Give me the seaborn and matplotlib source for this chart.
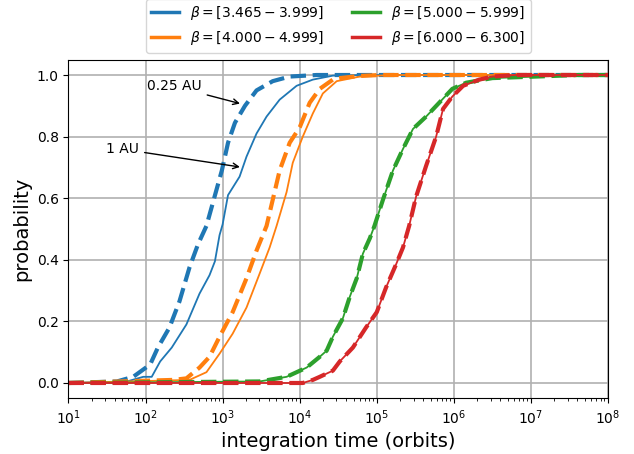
import numpy as np
import pandas as pd
import seaborn as sns
import matplotlib
matplotlib.use('Agg')
import matplotlib.pyplot as plt
from matplotlib.lines import Line2D

# log10(integration time) and cumulative probability
blue_025_logt = [1.0, 1.63, 1.84, 2.06, 2.16, 2.31, 2.44, 2.57, 2.68, 2.79, 2.99, 3.07, 3.16, 3.29, 3.44, 3.65, 3.87, 4.22, 8.0]
blue_025_p = [0, 0.005, 0.02, 0.06, 0.115, 0.18, 0.265, 0.375, 0.45, 0.51, 0.69, 0.78, 0.845, 0.90, 0.95, 0.98, 0.995, 1.0, 1.0]

blue_1_logt = [1.0, 1.76, 1.97, 2.08, 2.19, 2.34, 2.53, 2.70, 2.83, 2.90, 2.96, 3.0, 3.07, 3.22, 3.31, 3.44, 3.57, 3.74, 3.96, 4.17, 4.43, 4.8, 8.0]
blue_1_p = [0, 0.005, 0.02, 0.02, 0.07, 0.115, 0.19, 0.29, 0.35, 0.395, 0.48, 0.515, 0.61, 0.67, 0.735, 0.81, 0.865, 0.92, 0.965, 0.985, 0.998, 1.0, 1.0]

orange_025_logt = [1.0, 2.36, 2.53, 2.70, 2.83, 2.96, 3.13, 3.31, 3.44, 3.57, 3.74, 3.87, 4.0, 4.13, 4.26, 4.43, 4.52, 4.78, 5.04, 8.0]
orange_025_p = [0, 0.01, 0.015, 0.05, 0.085, 0.15, 0.23, 0.34, 0.43, 0.51, 0.69, 0.78, 0.83, 0.91, 0.955, 0.985, 0.99, 0.997, 1.0, 1.0]

orange_1_logt = [1.0, 2.57, 2.79, 2.96, 3.13, 3.31, 3.48, 3.61, 3.70, 3.83, 3.91, 4.04, 4.17, 4.30, 4.48, 4.78, 5.2, 8.0]
orange_1_p = [0, 0.01, 0.035, 0.095, 0.16, 0.245, 0.355, 0.44, 0.51, 0.62, 0.715, 0.80, 0.875, 0.94, 0.98, 0.995, 1.0, 1.0]

green_logt = [1.0, 3.48, 3.83, 4.09, 4.26, 4.35, 4.43, 4.56, 4.65, 4.74, 4.82, 4.91, 4.97, 5.08, 5.21, 5.34, 5.47, 5.64, 5.81, 5.98, 6.16, 6.50, 7.07, 7.6, 8.0]
green_p = [0, 0.005, 0.02, 0.05, 0.085, 0.105, 0.15, 0.21, 0.28, 0.34, 0.42, 0.47, 0.51, 0.595, 0.69, 0.76, 0.825, 0.865, 0.91, 0.955, 0.975, 0.99, 0.995, 1.0, 1.0]

red_logt = [1.0, 4.04, 4.17, 4.26, 4.43, 4.52, 4.69, 4.86, 5.0, 5.12, 5.25, 5.34, 5.42, 5.51, 5.64, 5.77, 5.86, 5.98, 6.12, 6.33, 6.5, 6.8, 8.0]
red_p = [0, 0.0, 0.01, 0.02, 0.04, 0.07, 0.115, 0.18, 0.23, 0.31, 0.385, 0.44, 0.51, 0.605, 0.705, 0.80, 0.89, 0.93, 0.965, 0.985, 0.995, 1.0, 1.0]

labels = [r'$\beta = [3.465 - 3.999]$', r'$\beta = [4.000 - 4.999]$',
          r'$\beta = [5.000 - 5.999]$', r'$\beta = [6.000 - 6.300]$']
colors = ['#1f77b4', '#ff7f0e', '#2ca02c', '#d62728']

series = [
    (blue_1_logt, blue_1_p, blue_025_logt, blue_025_p),
    (orange_1_logt, orange_1_p, orange_025_logt, orange_025_p),
    (green_logt, green_p, green_logt, green_p),
    (red_logt, red_p, red_logt, red_p),
]

fig, ax = plt.subplots(figsize=(6.34, 4.54), dpi=100)
fig.subplots_adjust(left=0.108, right=0.959, bottom=0.1225, top=0.8687)

for (lt1, p1, lt2, p2), c in zip(series, colors):
    d1 = pd.DataFrame({'t': 10 ** np.array(lt1), 'p': p1})
    d2 = pd.DataFrame({'t': 10 ** np.array(lt2), 'p': p2})
    sns.lineplot(data=d1, x='t', y='p', ax=ax, color=c, lw=1.3,
                 estimator=None, sort=False)
    sns.lineplot(data=d2, x='t', y='p', ax=ax, color=c, lw=3, ls='--',
                 estimator=None, sort=False)

ax.set_xscale('log')
ax.set_xlim(1e1, 1e8)
ax.set_ylim(-0.05, 1.05)
ax.set_yticks([0.0, 0.2, 0.4, 0.6, 0.8, 1.0])
ax.grid(True, which='major', color='#b0b0b0', lw=1.2)
ax.set_axisbelow(True)
ax.set_xlabel('integration time (orbits)', fontsize=14)
ax.set_ylabel('probability', fontsize=14)

handles = [Line2D([], [], color=c, lw=2.5) for c in colors]
ax.legend(handles, labels, loc='lower center', bbox_to_anchor=(0.5, 1.02),
          ncol=2, fontsize=10, borderaxespad=0)

ax.annotate('0.25 AU', xy=(10 ** 3.26, 0.905), xytext=(10 ** 2.02, 0.963),
            ha='left', va='center', fontsize=10,
            arrowprops=dict(arrowstyle='->', color='black', lw=1))
ax.annotate('1 AU', xy=(10 ** 3.26, 0.70), xytext=(10 ** 1.49, 0.759),
            ha='left', va='center', fontsize=10,
            arrowprops=dict(arrowstyle='->', color='black', lw=1))

fig.savefig('out.png', dpi=100)
